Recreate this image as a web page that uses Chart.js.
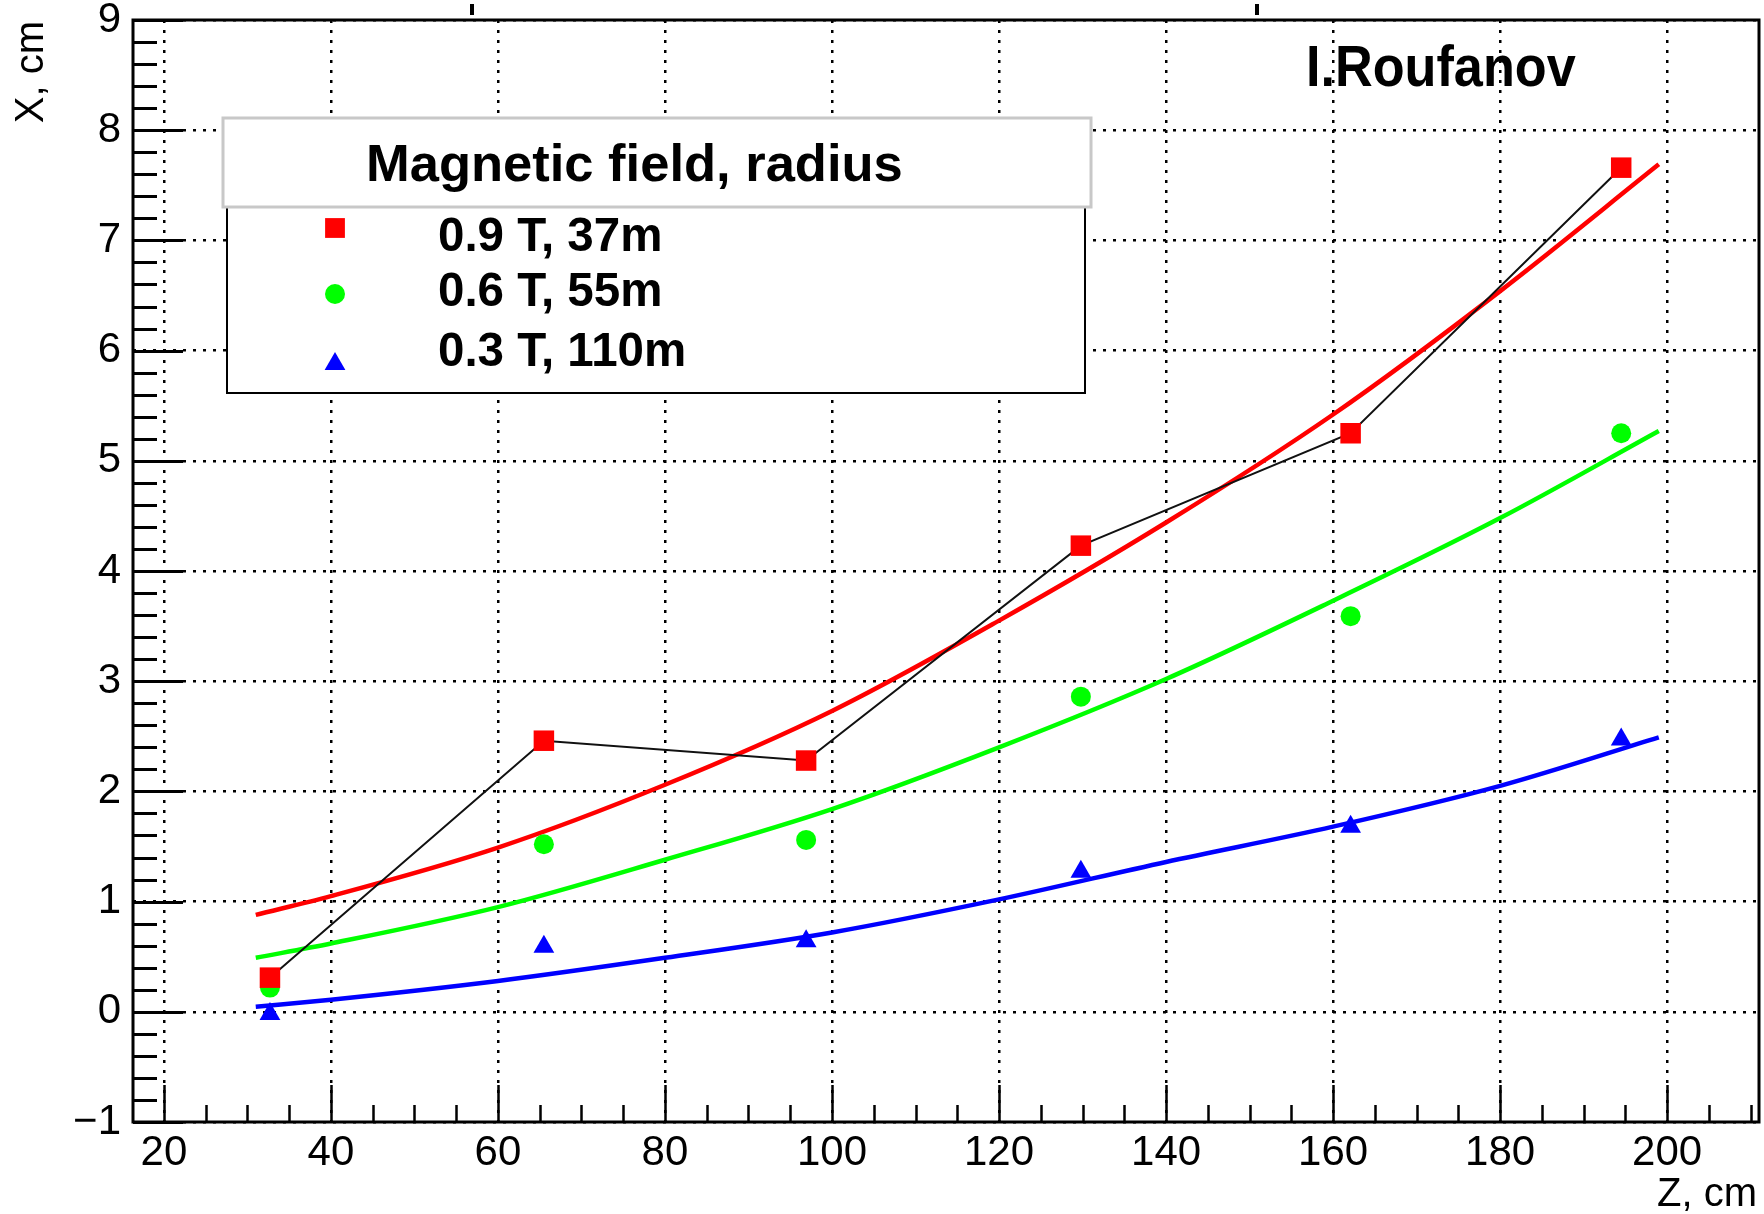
<!DOCTYPE html>
<html><head><meta charset="utf-8">
<script src="https://cdn.jsdelivr.net/npm/chart.js@4.4.1/dist/chart.umd.min.js"></script>
<style>html,body{margin:0;padding:0;background:#fff;overflow:hidden}#wrap{width:1764px;height:1214px;position:relative;overflow:hidden}canvas{display:block}</style>
</head><body><div id="wrap"><canvas id="c"></canvas></div>
<script>
// ---- data ----
const zPositions = [32.7, 65.5, 96.9, 129.8, 162.1, 194.5];
const dev09 = [0.31, 2.46, 2.28, 4.23, 5.25, 7.66];
const dev06 = [0.22, 1.52, 1.56, 2.86, 3.59, 5.25];
const dev03 = [-0.02, 0.59, 0.64, 1.27, 1.68, 2.47];
const fitZ = [31, 40, 60, 80, 100, 120, 140, 160, 180, 199];
const fit09 = [0.88, 1.05, 1.49, 2.06, 2.73, 3.55, 4.44, 5.42, 6.54, 7.69];
const fit06 = [0.49, 0.62, 0.95, 1.38, 1.84, 2.40, 3.02, 3.73, 4.48, 5.27];
const fit03 = [0.045, 0.11, 0.28, 0.49, 0.72, 1.02, 1.36, 1.68, 2.05, 2.49];
const seriesLabels = ['0.9 T, 37m', '0.6 T, 55m', '0.3 T, 110m'];
const legendTitle = 'Magnetic field, radius';
const authorLabel = 'I.Roufanov';
const xAxisTitle = 'Z, cm';
const yAxisTitle = 'X, cm';
const xMajorTicks = [20, 40, 60, 80, 100, 120, 140, 160, 180, 200];
const yMajorTicks = [-1, 0, 1, 2, 3, 4, 5, 6, 7, 8, 9];

const FONT = "'Liberation Sans', Arial, Helvetica, sans-serif";
const RED = '#ff0000', GREEN = '#00ff00', BLUE = '#0000ff';

function pts(xs, ys) { return xs.map((x, i) => ({x: x, y: ys[i]})); }

const datasets = [
  {label: seriesLabels[0], data: pts(zPositions, dev09), showLine: false, pointStyle: 'rect', pointRadius: 14.5, pointHoverRadius: 14.5, backgroundColor: RED, borderColor: RED, pointBorderWidth: 0, order: 0},
  {label: seriesLabels[1], data: pts(zPositions, dev06), showLine: false, pointStyle: 'circle', pointRadius: 10, pointHoverRadius: 10, backgroundColor: GREEN, borderColor: GREEN, pointBorderWidth: 0, order: 0},
  {label: seriesLabels[2], data: pts(zPositions, dev03), showLine: false, pointStyle: 'triangle', pointRadius: 12, pointHoverRadius: 12, backgroundColor: BLUE, borderColor: BLUE, pointBorderWidth: 0, order: 0},
  {label: 'connect', data: pts(zPositions, dev09), showLine: true, borderColor: '#111', borderWidth: 2, pointRadius: 0, tension: 0, order: 1},
  {label: 'fit09', data: pts(fitZ, fit09), showLine: true, borderColor: RED, borderWidth: 4.5, pointRadius: 0, cubicInterpolationMode: 'monotone', order: 2},
  {label: 'fit06', data: pts(fitZ, fit06), showLine: true, borderColor: GREEN, borderWidth: 4.5, pointRadius: 0, cubicInterpolationMode: 'monotone', order: 2},
  {label: 'fit03', data: pts(fitZ, fit03), showLine: true, borderColor: BLUE, borderWidth: 4.5, pointRadius: 0, cubicInterpolationMode: 'monotone', order: 2}
];

function minorBetween(majors, n) {
  const out = [];
  for (let i = 0; i < majors.length - 1; i++) {
    const a = majors[i], b = majors[i + 1];
    for (let k = 1; k < n; k++) out.push(a + (b - a) * k / n);
  }
  return out;
}

function drawMarker(ctx, style, x, y, r, color) {
  ctx.save();
  ctx.fillStyle = color;
  ctx.beginPath();
  if (style === 'rect') {
    const s = Math.SQRT1_2 * r;
    ctx.rect(x - s, y - s, 2 * s, 2 * s);
  } else if (style === 'circle') {
    ctx.arc(x, y, r, 0, Math.PI * 2);
  } else {
    ctx.moveTo(x, y - r);
    ctx.lineTo(x + Math.sin(2 * Math.PI / 3) * r, y + 0.5 * r);
    ctx.lineTo(x - Math.sin(2 * Math.PI / 3) * r, y + 0.5 * r);
    ctx.closePath();
  }
  ctx.fill();
  ctx.restore();
}

const decor = {
  id: 'rootDecor',
  afterDraw(chart) {
    const ctx = chart.ctx, xs = chart.scales.x, ys = chart.scales.y, ca = chart.chartArea;
    ctx.save();
    ctx.strokeStyle = '#000';
    ctx.lineCap = 'butt';
    // x ticks (inside, upward)
    const xExt = xMajorTicks.concat([xMajorTicks[xMajorTicks.length - 1] + 20]);
    const xMinor = minorBetween(xExt, 4).filter(v => v <= xs.max);
    ctx.lineWidth = 2.5;
    ctx.beginPath();
    xMajorTicks.forEach(v => { const p = Math.round(xs.getPixelForValue(v)) + 0.5; ctx.moveTo(p, ca.bottom); ctx.lineTo(p, ca.bottom - 37); });
    xMinor.forEach(v => { const p = Math.round(xs.getPixelForValue(v)) + 0.5; ctx.moveTo(p, ca.bottom); ctx.lineTo(p, ca.bottom - 17); });
    ctx.stroke();
    // y ticks (inside, rightward)
    const yMinor = minorBetween(yMajorTicks, 5);
    ctx.lineWidth = 3;
    ctx.beginPath();
    yMajorTicks.forEach(v => { const p = Math.round(ys.getPixelForValue(v)) + 0.5; ctx.moveTo(ca.left, p); ctx.lineTo(ca.left + 50, p); });
    yMinor.forEach(v => { const p = Math.round(ys.getPixelForValue(v)) + 0.5; ctx.moveTo(ca.left, p); ctx.lineTo(ca.left + 24, p); });
    ctx.stroke();
    // frame
    ctx.lineWidth = 3;
    ctx.strokeRect(ca.left, ca.top, ca.right - ca.left, ca.bottom - ca.top);
    // small marks above the frame
    ctx.fillStyle = '#000';
    ctx.fillRect(470, 4, 4, 11);
    ctx.fillRect(1255, 4, 4, 11);

    // legend lower box
    ctx.fillStyle = '#fff';
    ctx.fillRect(227, 207, 858, 186);
    ctx.lineWidth = 2;
    ctx.strokeStyle = '#000';
    ctx.strokeRect(227, 207, 858, 186);
    // legend header
    ctx.fillStyle = '#fff';
    ctx.fillRect(223, 118, 868, 89);
    ctx.lineWidth = 3;
    ctx.strokeStyle = '#c8c8c8';
    ctx.strokeRect(223, 118, 868, 89);
    ctx.fillStyle = '#000';
    ctx.textAlign = 'left';
    ctx.textBaseline = 'alphabetic';
    ctx.font = 'bold 52.5px ' + FONT;
    ctx.fillText(legendTitle, 366, 181);
    // legend entries
    const styles = ['rect', 'circle', 'triangle'];
    const colors = [RED, GREEN, BLUE];
    const radii = [14, 10, 12];
    const markerY = [228, 294, 364];
    const baseY = [251, 306, 366];
    ctx.font = 'bold 47.5px ' + FONT;
    for (let i = 0; i < 3; i++) {
      drawMarker(ctx, styles[i], 335, markerY[i], radii[i], colors[i]);
      ctx.fillStyle = '#000';
      ctx.fillText(chart.data.datasets[i].label, 438, baseY[i]);
    }
    // author label
    ctx.save();
    ctx.font = 'bold 58px ' + FONT;
    ctx.translate(1306, 86);
    ctx.scale(0.9, 1);
    ctx.fillText(authorLabel, 0, 0);
    ctx.restore();
    // axis titles
    ctx.font = '40px ' + FONT;
    ctx.textAlign = 'right';
    ctx.fillText(xAxisTitle, 1757, 1206);
    ctx.save();
    ctx.translate(43, 21);
    ctx.rotate(-Math.PI / 2);
    ctx.textAlign = 'right';
    ctx.fillText(yAxisTitle, 0, 0);
    ctx.restore();
    ctx.restore();
  }
};

new Chart(document.getElementById('c'), {
  type: 'scatter',
  data: {datasets: datasets},
  options: {
    responsive: true,
    maintainAspectRatio: false,
    animation: false,
    devicePixelRatio: 1,
    layout: {autoPadding: false, padding: {top: 20, right: 5, left: 0, bottom: 0}},
    plugins: {legend: {display: false}, tooltip: {enabled: false}, title: {display: false}},
    scales: {
      x: {
        type: 'linear', min: 16.3, max: 211,
        afterBuildTicks: s => { s.ticks = xMajorTicks.map(v => ({value: v})); },
        afterFit: s => { s.height = 92; s.paddingLeft = 0; s.paddingRight = 0; },
        ticks: {color: '#000', font: {family: FONT, size: 42}, padding: 6, maxRotation: 0, autoSkip: false},
        grid: {color: '#000', lineWidth: 2.5, drawTicks: false},
        border: {display: false, dash: [3, 7]}
      },
      y: {
        type: 'linear', min: -1, max: 9,
        afterBuildTicks: s => { s.ticks = yMajorTicks.map(v => ({value: v})); },
        afterFit: s => { s.width = 133; s.paddingTop = 0; s.paddingBottom = 0; },
        ticks: {color: '#000', font: {family: FONT, size: 42}, padding: 12, autoSkip: false,
          callback: v => String(v).replace('-', '\u2212')},
        grid: {color: '#000', lineWidth: 2.5, drawTicks: false},
        border: {display: false, dash: [3, 7]}
      }
    }
  },
  plugins: [decor]
});
</script></body></html>
